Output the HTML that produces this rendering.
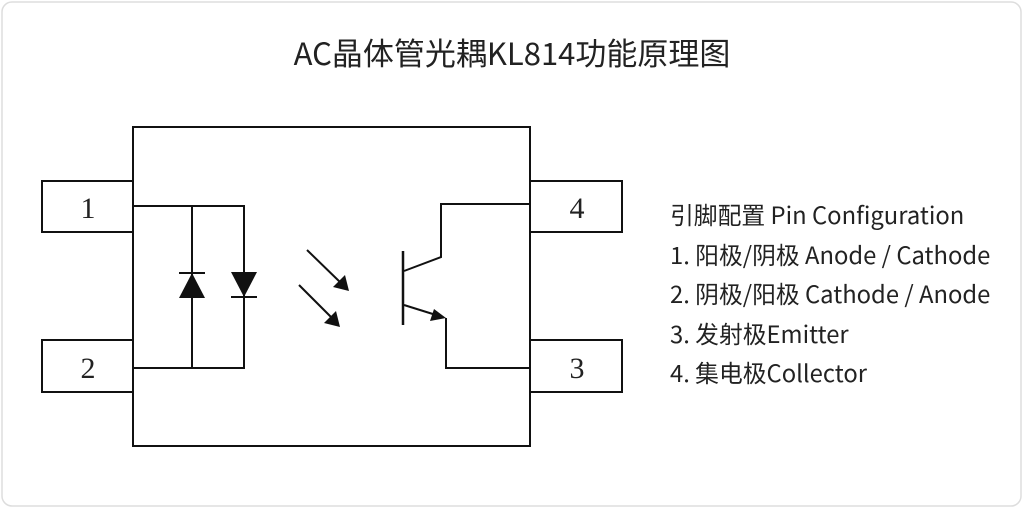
<!DOCTYPE html>
<html><head><meta charset="utf-8"><style>
body{margin:0;background:#fff;width:1024px;height:509px;overflow:hidden;font-family:"Noto Sans CJK SC",sans-serif}
svg{position:absolute;left:0;top:0}
.t{position:absolute;color:#222;white-space:nowrap}
</style></head><body>
<svg width="1024" height="509">
<rect x="2" y="2" width="1019" height="504" rx="10" fill="none" stroke="#ddd" stroke-width="1.5"/>
<g fill="none" stroke="#111" stroke-width="2">
<rect x="133" y="127" width="397" height="319"/>
<rect x="42" y="181" width="91" height="51"/>
<rect x="42" y="340" width="91" height="52"/>
<rect x="530" y="181" width="92" height="51"/>
<rect x="530" y="340" width="92" height="52"/>
<polyline points="133,206 244,206 244,368 133,368"/>
<line x1="192" y1="206" x2="192" y2="368"/>
<line x1="179" y1="273" x2="205" y2="273"/>
<line x1="231" y1="297" x2="257" y2="297"/>
<line x1="307" y1="250" x2="342" y2="284"/>
<line x1="299" y1="285" x2="333" y2="319"/>
<line x1="403" y1="251" x2="403" y2="325" stroke-width="2.5"/>
<polyline points="404,271 441,257 441,204 530,204"/>
<line x1="404" y1="305" x2="436" y2="315"/>
<polyline points="446,318 446,368 530,368"/>
</g>
<g fill="#111">
<polygon points="192,273 179,298 205,298"/>
<polygon points="231,272 257,272 244,297"/>
<polygon points="349,291 333,287 345,275"/>
<polygon points="340,327 324,323 336,311"/>
<polygon points="446,318 430,321 434,309"/>
</g>
<g font-family="Liberation Serif,serif" font-size="30" fill="#222" text-anchor="middle">
<text x="88" y="218">1</text><text x="88" y="378">2</text>
<text x="577" y="218">4</text><text x="577" y="378">3</text>
</g>
</svg>
<div class="t" style="left:0;width:1024px;text-align:center;top:31px;font-size:31px;line-height:42px">AC晶体管光耦KL814功能原理图</div>
<div class="t" style="left:670px;top:194px;font-size:23.8px;line-height:39.5px">引脚配置 Pin Configuration<br>1. 阳极/阴极 Anode / Cathode<br>2. 阴极/阳极 Cathode / Anode<br>3. 发射极Emitter<br>4. 集电极Collector</div>
</body></html>
